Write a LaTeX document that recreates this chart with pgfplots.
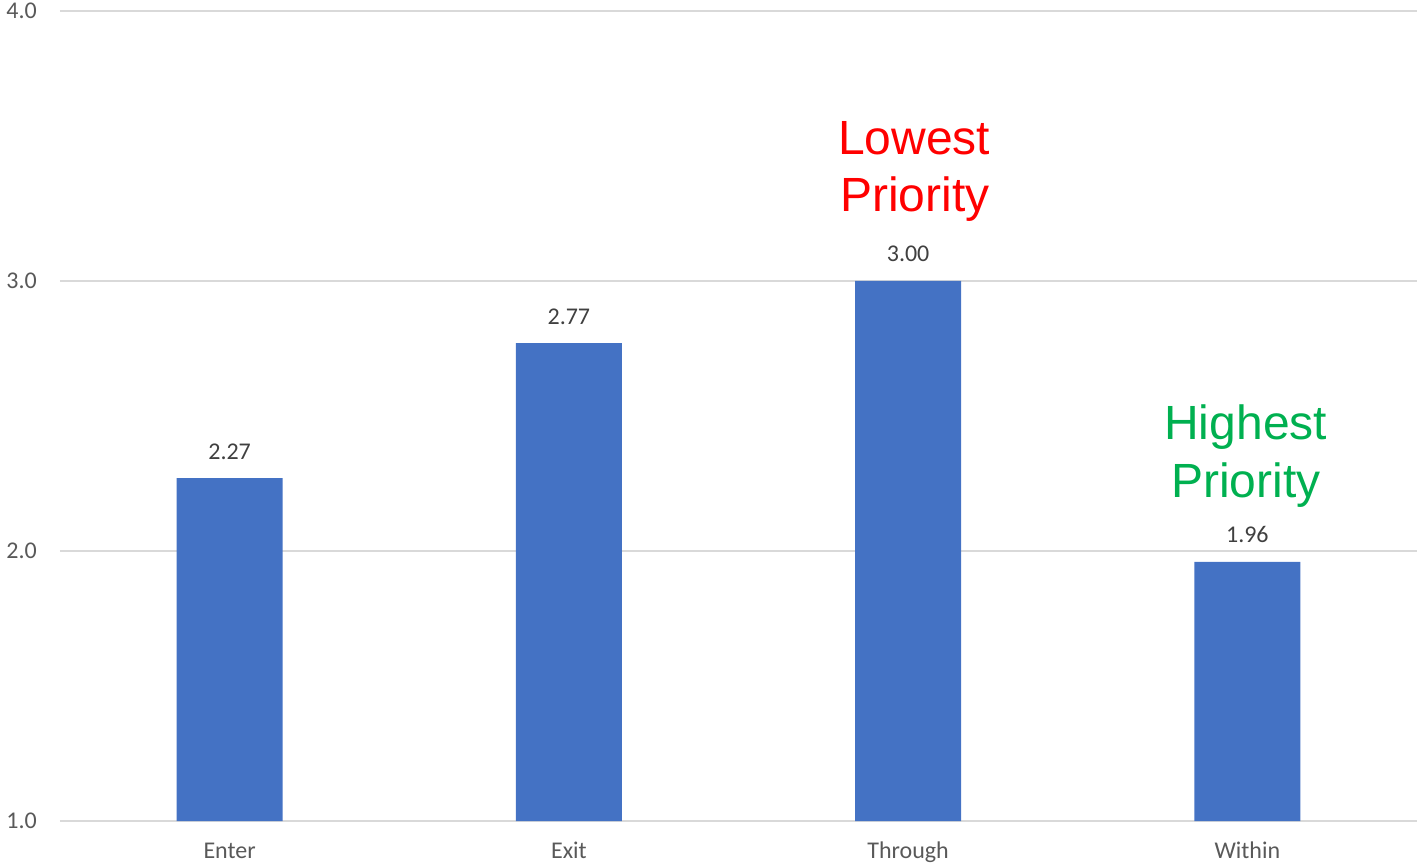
\documentclass[border=0pt]{standalone}
\usepackage{fontspec}
\setmainfont{Carlito}
\newfontfamily\annfont{Liberation Sans}
\usepackage{pgfplots}
\pgfplotsset{compat=1.18}

\definecolor{barblue}{HTML}{4472C4}
\definecolor{gridgray}{HTML}{D9D9D9}
\definecolor{ticktext}{HTML}{595959}
\definecolor{labeltext}{HTML}{404040}
\definecolor{hiGreen}{HTML}{00B050}

\begin{document}
\begin{tikzpicture}
\begin{axis}[
  scale only axis,
  width=1357pt, height=810pt,
  xmin=-0.5, xmax=3.5,
  ymin=1, ymax=4,
  ytick={1,2,3,4},
  xtick=data,
  xticklabels={Enter,Exit,Through,Within},
  /pgf/number format/assume math mode=true,
  yticklabel style={/pgf/number format/fixed, /pgf/number format/precision=1, /pgf/number format/fixed zerofill},
  ymajorgrids,
  grid style={gridgray, line width=1.6pt},
  axis line style={draw=none},
  major tick length=0pt,
  tick label style={font=\fontsize{24}{28}\selectfont, text=ticktext},
  yticklabel style={anchor=east, inner sep=0pt, xshift=-23pt},
  xticklabel style={anchor=base, inner sep=0pt, yshift=-37pt},
  ybar, bar width=106pt,
  nodes near coords,
  nodes near coords style={font=\fontsize{24}{28}\selectfont, text=labeltext, anchor=base, inner sep=0pt, yshift=19pt,
    /pgf/number format/fixed, /pgf/number format/precision=2, /pgf/number format/fixed zerofill},
  clip=false,
]
\addplot[fill=barblue, draw=none] coordinates {(0,2.27) (1,2.77) (2,3.00) (3,1.96)};

\node[anchor=base, text=red, font=\annfont\fontsize{48}{56}\selectfont] at (axis cs:2.018,3.467) {Lowest};
\node[anchor=base, text=red, font=\annfont\fontsize{48}{56}\selectfont] at (axis cs:2.020,3.257) {Priority};
\node[anchor=base, text=hiGreen, font=\annfont\fontsize{48}{56}\selectfont] at (axis cs:2.995,2.414) {Highest};
\node[anchor=base, text=hiGreen, font=\annfont\fontsize{48}{56}\selectfont] at (axis cs:2.995,2.199) {Priority};
\end{axis}
\pgfresetboundingbox
\useasboundingbox ([shift={(-60pt,-43pt)}]current axis.south west) rectangle ([shift={(0pt,11pt)}]current axis.north east);
\end{tikzpicture}
\end{document}
